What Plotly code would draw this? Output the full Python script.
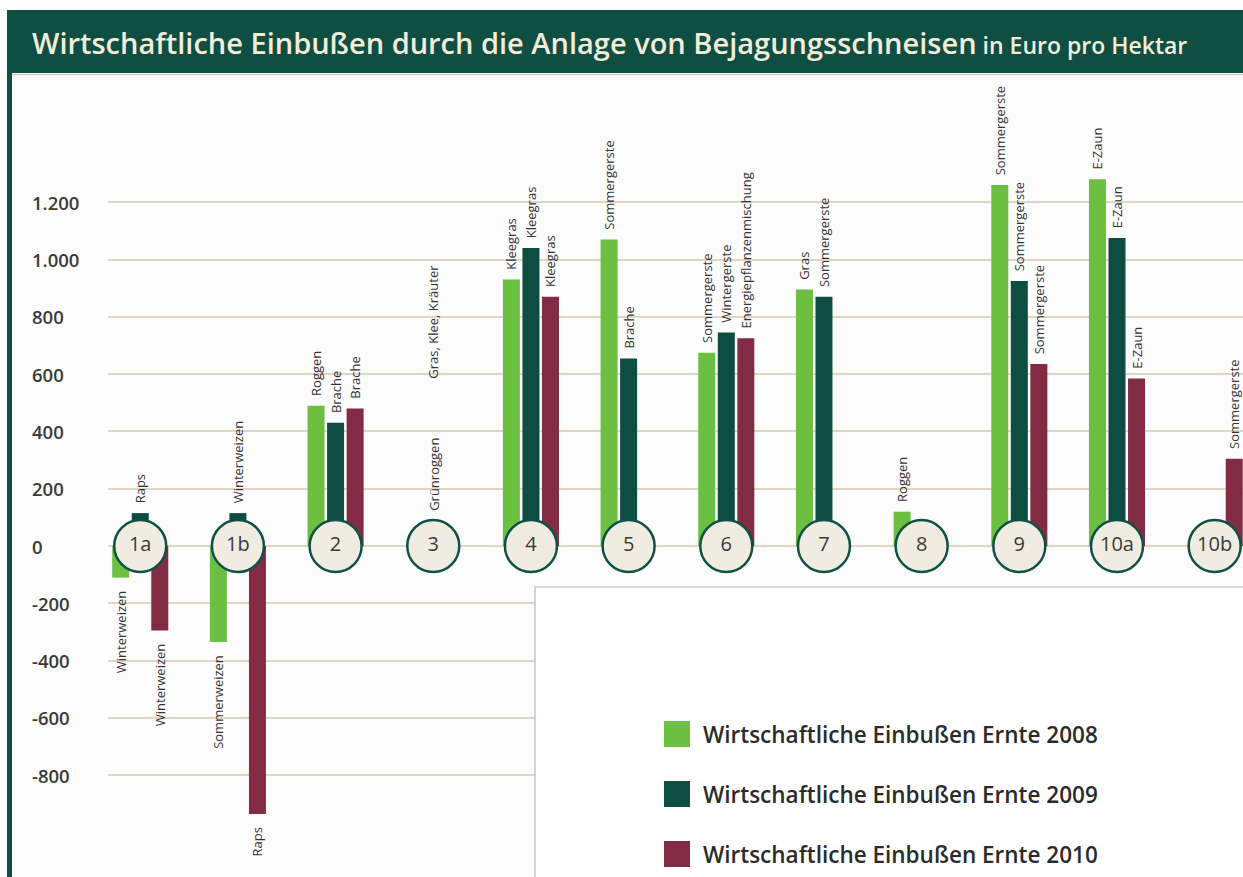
import plotly.graph_objects as go

# ---------------- data ----------------
groups = ["1a", "1b", "2", "3", "4", "5", "6", "7", "8", "9", "10a", "10b"]
series_names = ["Wirtschaftliche Einbußen Ernte 2008",
                "Wirtschaftliche Einbußen Ernte 2009",
                "Wirtschaftliche Einbußen Ernte 2010"]
v2008 = [-110, -335, 490, None, 930, 1070, 675, 895, 120, 1260, 1280, None]
v2009 = [115, 115, 430, None, 1040, 655, 745, 870, None, 925, 1075, None]
v2010 = [-295, -935, 480, None, 870, None, 725, None, None, 635, 585, 305]
crops2008 = ["Winterweizen", "Sommerweizen", "Roggen", "", "Kleegras", "Sommergerste",
             "Sommergerste", "Gras", "Roggen", "Sommergerste", "E-Zaun", ""]
crops2009 = ["Raps", "Winterweizen", "Brache", "", "Kleegras", "Brache",
             "Wintergerste", "Sommergerste", "", "Sommergerste", "E-Zaun", ""]
crops2010 = ["Winterweizen", "Raps", "Brache", "", "Kleegras", "",
             "Energiepflanzenmischung", "", "", "Sommergerste", "E-Zaun", "Sommergerste"]
group3_labels = ["Grünroggen", "Gras, Klee, Kräuter"]
group3_values = [115, 578]
tick_vals = [1200, 1000, 800, 600, 400, 200, 0, -200, -400, -600, -800]
tick_labels = ["1.200", "1.000", "800", "600", "400", "200", "0", "-200", "-400", "-600", "-800"]

# ---------------- styling ----------------
C2008 = "#6cbf41"
C2009 = "#0e4d41"
C2010 = "#822b45"
colors = [C2008, C2009, C2010]
HEADER = "#0f4e43"
GRID = "#e2d5c1"
FONT = "Open Sans"

W, H = 1243, 877
L, R, T, B = 108, 1243, 75, 877
PW, PH = R - L, B - T


def px(x):
    return (x - L) / PW


def py(y):
    return (B - y) / PH


NB = "\u00a0"


def pad(labels, values):
    out = []
    for lab, v in zip(labels, values):
        if v is None or not lab:
            out.append("")
        elif v >= 0:
            out.append(NB * 2 + lab)
        else:
            out.append(lab + NB * 3)
    return out


fig = go.Figure()
for name, vals, labs, col in zip(series_names, [v2008, v2009, v2010],
                                 [crops2008, crops2009, crops2010], colors):
    fig.add_trace(go.Bar(
        x=groups, y=vals, name=name, showlegend=False,
        marker=dict(color=col, line=dict(width=0)),
        text=pad(labs, vals), textposition="outside", textangle=-90,
        constraintext="none", cliponaxis=False,
        textfont=dict(family=FONT, size=13, color="#333333"),
        hoverinfo="x+y+name",
    ))

# numbered circles on the zero line
fig.add_trace(go.Scatter(
    x=groups, y=[0] * len(groups), mode="markers+text", text=groups,
    textposition="middle center", showlegend=False, cliponaxis=False,
    marker=dict(size=52, color="#f1ece2", line=dict(color="#0f5145", width=2.5)),
    textfont=dict(family=FONT, size=20, color="#3a3a3a"),
    hoverinfo="skip",
))

annotations = []
# group 3 labels (no bars)
for lab, yv in zip(group3_labels, group3_values):
    annotations.append(dict(x="3", y=yv, xref="x", yref="y", text=lab, textangle=-90,
                            showarrow=False, xanchor="center", yanchor="bottom",
                            font=dict(family=FONT, size=13, color="#333333")))
# left-aligned y tick labels
for tv, tl in zip(tick_vals, tick_labels):
    annotations.append(dict(x=px(30), y=tv, xref="paper", yref="y", text=tl,
                            showarrow=False, xanchor="left", yanchor="middle",
                            font=dict(family=FONT, size=18.5, color="#3a3a3a", weight=600)))
# title
annotations.append(dict(
    x=px(30), y=py(42), xref="paper", yref="paper", xanchor="left", yanchor="middle",
    showarrow=False,
    text="Wirtschaftliche Einbußen durch die Anlage von Bejagungsschneisen"
         "<span style='font-size:23px'> in Euro pro Hektar</span>",
    font=dict(family=FONT, size=29, color="#f3ecd8", weight=600),
))

shapes = [
    # header band
    dict(type="rect", xref="paper", yref="paper", x0=px(7), x1=px(1250), y0=py(73), y1=py(10),
         fillcolor=HEADER, line=dict(width=0), layer="above"),
    dict(type="line", xref="paper", yref="paper", x0=px(12), x1=px(1250), y0=py(74.5), y1=py(74.5),
         line=dict(color="#d9cfb9", width=1.5), layer="above"),
    # left border
    dict(type="rect", xref="paper", yref="paper", x0=px(7), x1=px(12), y0=py(880), y1=py(73),
         fillcolor=HEADER, line=dict(width=0), layer="above"),
    # legend box
    dict(type="rect", xref="paper", yref="paper", x0=px(535), x1=px(1260), y0=py(890), y1=py(587),
         fillcolor="#ffffff", line=dict(color="#b8b8b8", width=1.2), layer="above"),
]

# legend (swatches + labels)
for i, (name, col) in enumerate(zip(series_names, colors)):
    cy = 734 + 60 * i
    shapes.append(dict(type="rect", xref="paper", yref="paper",
                       x0=px(664), x1=px(690), y0=py(cy + 13), y1=py(cy - 13),
                       fillcolor=col, line=dict(width=0), layer="above"))
    annotations.append(dict(x=px(701), y=py(cy), xref="paper", yref="paper", text=name,
                            showarrow=False, xanchor="left", yanchor="middle",
                            font=dict(family=FONT, size=22.5, color="#2b2b2b", weight=600)))

fig.update_layout(
    width=W, height=H,
    margin=dict(l=L, r=W - R, t=T, b=H - B, pad=0),
    paper_bgcolor="#fcfcfc", plot_bgcolor="#fcfcfc",
    barmode="group", bargap=0.40, bargroupgap=0.13,
    font=dict(family=FONT, color="#333333"),
    xaxis=dict(type="category", range=[-0.33, 11.29], showgrid=False, showticklabels=False,
               zeroline=False, showline=False, ticks="", fixedrange=True),
    yaxis=dict(range=[-1155, 1644], tickvals=tick_vals, showticklabels=False, ticks="",
               showgrid=True, gridcolor=GRID, gridwidth=2, zeroline=False, showline=False,
               fixedrange=True),
    showlegend=False,
    annotations=annotations, shapes=shapes,
)

fig.write_html("out.html", config={"displayModeBar": False},
               post_script="document.body.style.margin='0';")
